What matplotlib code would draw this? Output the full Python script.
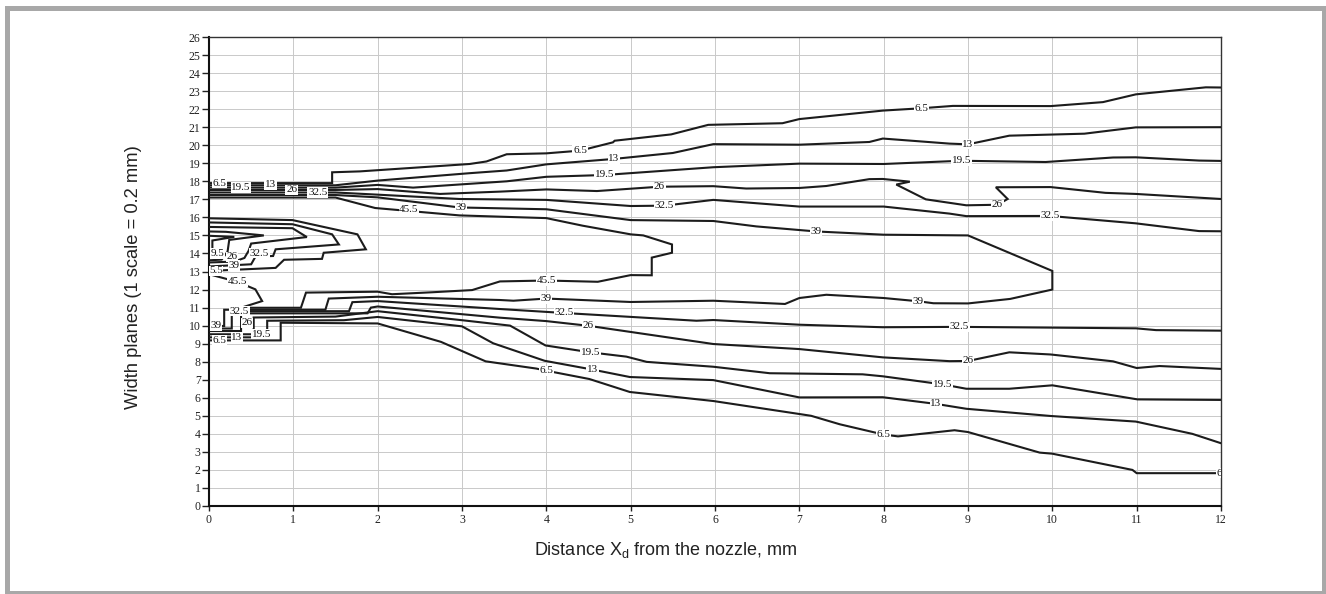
import matplotlib
matplotlib.use('Agg')
import matplotlib.pyplot as plt
from matplotlib.patches import Rectangle

# ---------------- data (contour polylines, data units) ----------------
x_ticks = list(range(0, 13))
y_ticks = list(range(0, 27))

# upper branch
up65_x = [0, 1.46, 1.46, 1.79, 3.09, 3.29, 3.53, 4.0, 4.4, 4.79, 4.81, 5.48, 5.92, 6.8, 7.0, 7.99, 8.45, 8.82, 9.98, 10.6, 10.99, 11.82, 12]
up65_y = [17.9, 17.9, 18.5, 18.55, 18.96, 19.1, 19.5, 19.55, 19.7, 20.16, 20.25, 20.6, 21.13, 21.22, 21.45, 21.92, 22.05, 22.18, 22.17, 22.39, 22.82, 23.21, 23.2]

up13_x = [0, 1.5, 2.0, 3.09, 3.53, 4.0, 4.8, 5.5, 5.98, 7.0, 7.83, 7.99, 8.19, 8.78, 9.0, 9.49, 10.38, 10.99, 12]
up13_y = [17.78, 17.78, 18.04, 18.45, 18.6, 18.94, 19.24, 19.57, 20.06, 20.03, 20.18, 20.37, 20.3, 20.09, 20.05, 20.53, 20.64, 20.99, 21.0]

up195_x = [0, 1.5, 2.0, 2.42, 3.53, 4.0, 4.69, 5.98, 7.0, 8.0, 8.92, 9.92, 10.72, 10.99, 11.74, 12]
up195_y = [17.65, 17.65, 17.8, 17.65, 18.0, 18.25, 18.35, 18.78, 18.98, 18.96, 19.14, 19.07, 19.32, 19.33, 19.15, 19.13]

up26_x = [0, 1.5, 2.0, 2.74, 3.46, 4.0, 4.6, 5.34, 5.98, 6.37, 7.0, 7.32, 7.83, 7.99, 8.31, 8.15, 8.5, 8.98, 9.35, 9.47, 9.33, 9.98, 10.63, 10.99, 12]
up26_y = [17.52, 17.52, 17.57, 17.3, 17.43, 17.55, 17.46, 17.7, 17.73, 17.6, 17.63, 17.74, 18.12, 18.13, 17.98, 17.82, 17.0, 16.67, 16.7, 17.02, 17.67, 17.68, 17.36, 17.3, 17.02]

up325_x = [0, 1.5, 2.0, 2.97, 4.0, 5.0, 5.4, 5.98, 7.0, 8.0, 8.78, 8.98, 9.97, 10.99, 11.74, 12]
up325_y = [17.38, 17.38, 17.26, 17.02, 16.97, 16.63, 16.65, 16.97, 16.6, 16.6, 16.21, 16.07, 16.08, 15.67, 15.24, 15.23]

c39_x = [0, 1.5, 2.0, 2.97, 4.0, 5.0, 5.98, 6.49, 7.2, 8.0, 9.0, 10.0, 10.0, 9.5, 9.0, 8.59, 8.41, 8.0, 7.32, 7.0, 6.83, 5.98, 5.0, 4.0, 3.61, 3.45, 2.0, 1.42, 1.38, 0.18, 0.18, 0]
c39_y = [17.24, 17.24, 17.11, 16.55, 16.45, 15.85, 15.8, 15.5, 15.22, 15.04, 15.0, 13.03, 12.0, 11.48, 11.23, 11.24, 11.35, 11.53, 11.71, 11.53, 11.2, 11.38, 11.31, 11.5, 11.38, 11.42, 11.6, 11.5, 10.88, 10.88, 9.98, 9.98]

c455_x = [0, 1.5, 1.97, 2.97, 3.72, 4.0, 4.43, 5.0, 5.15, 5.49, 5.49, 5.25, 5.25, 5.0, 4.61, 4.0, 3.45, 3.12, 2.65, 2.17, 2.0, 1.15, 1.09, 0.38, 0.63, 0.55, 0.34, 0]
c455_y = [17.1, 17.1, 16.52, 16.11, 16.0, 15.96, 15.54, 15.06, 15.0, 14.5, 14.04, 13.77, 12.79, 12.8, 12.43, 12.5, 12.45, 11.97, 11.85, 11.74, 11.88, 11.83, 10.99, 10.99, 11.36, 12.01, 12.42, 12.85]

# lower branch
lo325_x = [0, 0.27, 0.27, 1.66, 1.7, 2.0, 3.45, 4.21, 5.78, 5.98, 7.0, 7.99, 8.9, 10.99, 11.23, 12]
lo325_y = [9.84, 9.84, 10.8, 10.8, 11.3, 11.36, 10.92, 10.7, 10.27, 10.31, 10.05, 9.91, 9.93, 9.85, 9.75, 9.72]

lo26_x = [0, 0.38, 0.38, 1.88, 1.92, 2.0, 3.45, 4.0, 4.5, 5.98, 7.0, 7.99, 8.78, 9.0, 9.49, 9.98, 10.72, 11.0, 11.27, 12]
lo26_y = [9.7, 9.7, 10.68, 10.68, 11.0, 11.06, 10.44, 10.25, 9.99, 8.98, 8.7, 8.24, 8.03, 8.04, 8.52, 8.4, 8.02, 7.65, 7.76, 7.6]

lo195_x = [0, 0.53, 0.53, 1.5, 2.0, 3.0, 3.57, 3.99, 4.52, 4.95, 5.19, 5.98, 6.65, 7.75, 7.99, 8.7, 8.98, 9.49, 10.0, 11.01, 12]
lo195_y = [9.52, 9.52, 10.45, 10.5, 10.8, 10.3, 10.0, 8.9, 8.52, 8.28, 7.99, 7.72, 7.36, 7.3, 7.19, 6.74, 6.5, 6.5, 6.69, 5.91, 5.88]

lo13_x = [0, 0.69, 0.69, 1.6, 2.0, 3.0, 3.37, 3.98, 4.55, 4.99, 5.98, 7.0, 7.99, 8.62, 8.98, 9.98, 10.99, 11.66, 12]
lo13_y = [9.35, 9.35, 10.27, 10.3, 10.48, 9.96, 9.02, 8.05, 7.56, 7.15, 6.98, 6.02, 6.03, 5.66, 5.39, 4.99, 4.68, 4.0, 3.48]

lo65_x = [0, 0.85, 0.85, 2.0, 2.75, 3.28, 3.88, 4.0, 4.51, 4.99, 5.98, 7.0, 7.14, 7.48, 8.0, 8.17, 8.84, 9.0, 9.85, 10.0, 10.95, 11.0, 12]
lo65_y = [9.18, 9.18, 10.16, 10.12, 9.1, 8.02, 7.62, 7.5, 7.04, 6.32, 5.82, 5.1, 5.0, 4.53, 3.96, 3.86, 4.2, 4.1, 2.96, 2.9, 2.0, 1.82, 1.82]

# nested contours near the nozzle (x 0-2, y 13-16)
n455_x = [0, 0.99, 1.76, 1.86, 1.36, 1.34, 0.89, 0.79, 0]
n455_y = [15.95, 15.85, 15.06, 14.23, 14.04, 13.7, 13.65, 13.2, 13.03]
n39_x = [0, 0.99, 1.46, 1.54, 0.79, 0.76, 0.55, 0.5, 0.26, 0]
n39_y = [15.72, 15.62, 15.06, 14.5, 14.23, 13.86, 13.82, 13.4, 13.34, 13.28]
n325_x = [0, 0.99, 1.16, 0.5, 0.47, 0.42, 0.3, 0]
n325_y = [15.47, 15.4, 14.91, 14.55, 14.15, 13.75, 13.55, 13.5]
n26_x = [0, 0.2, 0.65, 0.24, 0.22, 0.15, 0]
n26_y = [15.22, 15.2, 15.0, 14.75, 14.1, 13.66, 13.62]
n195_x = [0, 0.3, 0.04, 0.04, 0]
n195_y = [14.98, 14.92, 14.72, 14.2, 13.78]

# contour labels
label_text = ["6.5", "19.5", "13", "26", "32.5",
              "6.5", "6.5", "13", "13", "19.5", "19.5", "26", "26", "32.5", "32.5",
              "39", "39", "39", "39", "45.5", "45.5", "45.5",
              "32.5", "32.5", "26", "26", "19.5", "19.5", "13", "13", "6.5", "6.5", "6.5",
              "6.5", "13", "19.5", "26", "39", "32.5",
              "9.5", "26", "32.5", "39", "5.5"]
label_x = [0.12, 0.38, 0.73, 0.98, 1.29,
           4.4, 8.45, 4.8, 9.0, 4.69, 8.92, 5.34, 9.35, 5.4, 9.97,
           2.99, 7.2, 8.41, 4.0, 2.37, 4.0, 0.34,
           4.21, 8.9, 4.5, 9.0, 4.52, 8.7, 4.55, 8.62, 4.0, 8.0, 12.03,
           0.12, 0.33, 0.62, 0.45, 0.08, 0.36,
           0.1, 0.27, 0.6, 0.3, 0.08]
label_y = [17.9, 17.65, 17.8, 17.52, 17.38,
           19.7, 22.05, 19.24, 20.05, 18.35, 19.14, 17.7, 16.7, 16.65, 16.08,
           16.55, 15.22, 11.35, 11.5, 16.43, 12.5, 12.42,
           10.7, 9.93, 9.99, 8.04, 8.52, 6.74, 7.56, 5.66, 7.5, 3.96, 1.82,
           9.18, 9.35, 9.52, 10.15, 9.98, 10.8,
           14.0, 13.82, 14.02, 13.33, 13.03]

contours = [(up65_x, up65_y), (up13_x, up13_y), (up195_x, up195_y), (up26_x, up26_y),
            (up325_x, up325_y), (c39_x, c39_y), (c455_x, c455_y),
            (lo325_x, lo325_y), (lo26_x, lo26_y), (lo195_x, lo195_y), (lo13_x, lo13_y), (lo65_x, lo65_y),
            (n455_x, n455_y), (n39_x, n39_y), (n325_x, n325_y), (n26_x, n26_y), (n195_x, n195_y)]

# ---------------- figure ----------------
W, H = 1326, 594
fig = plt.figure(figsize=(W / 100, H / 100), dpi=100)
fig.patch.set_facecolor('white')

ax = fig.add_axes([209 / W, 1 - 506 / H, (1221 - 209) / W, (506 - 37) / H])
ax.set_xlim(0, 12)
ax.set_ylim(0, 26)
ax.set_xticks(x_ticks)
ax.set_yticks(y_ticks)
ax.set_xticklabels([str(v) for v in x_ticks], family='Liberation Serif', fontsize=8.5)
ax.set_yticklabels([str(v) for v in y_ticks], family='Liberation Serif', fontsize=8.5)
ax.grid(True, color='#c9c9c9', lw=0.7)
ax.set_axisbelow(True)
ax.tick_params(axis='y', direction='out', length=5, width=1, pad=1, colors='#222222')
ax.tick_params(axis='x', direction='out', length=3.5, width=1, pad=2, colors='#222222')
for s in ['left', 'bottom']:
    ax.spines[s].set_linewidth(1.5)
    ax.spines[s].set_color('#111111')
for s in ['top', 'right']:
    ax.spines[s].set_linewidth(1.0)
    ax.spines[s].set_color('#333333')

for cx, cy in contours:
    ax.plot(cx, cy, color='#1c1c1c', lw=1.5, zorder=3, solid_joinstyle='miter')

for t, lx, ly in zip(label_text, label_x, label_y):
    ax.text(lx, ly, t, fontsize=8, family='Liberation Serif', ha='center', va='center',
            color='#111111', zorder=5, clip_on=True,
            bbox=dict(boxstyle='square,pad=0.06', fc='white', ec='none'))

fig.text(134 / W, 1 - 277 / H, 'Width planes (1 scale = 0.2 mm)', rotation=90,
         ha='center', va='center', fontsize=13.2, family='Liberation Sans', color='#222222')
fig.text(666 / W, 1 - 550 / H, r'Distance X$_\mathregular{d}$ from the nozzle, mm',
         ha='center', va='center', fontsize=13, family='Liberation Sans', color='#222222')

fig.patches.append(Rectangle((6.5 / W, 1.5 / H), 1317 / W, 585 / H, transform=fig.transFigure,
                             fill=False, ec='#a8a8a8', lw=3.6, zorder=0))

fig.savefig('out.png', dpi=100, facecolor='white')
